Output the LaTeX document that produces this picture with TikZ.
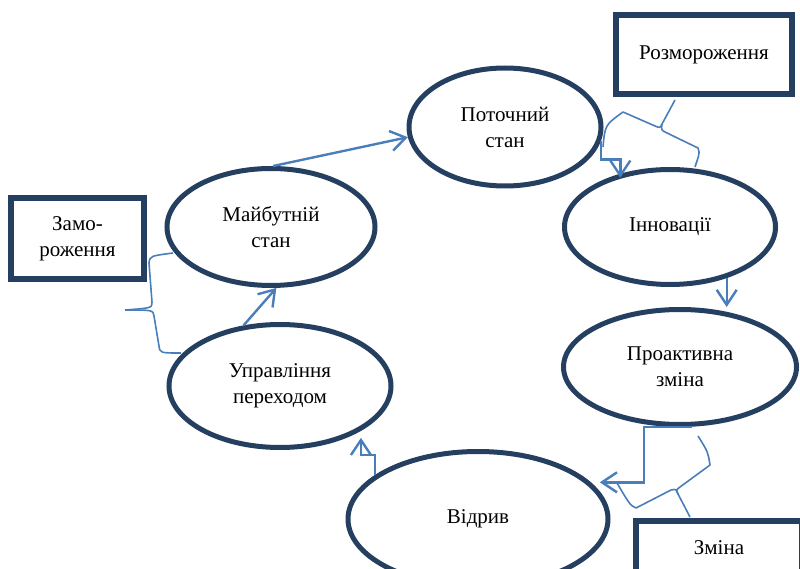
\documentclass[tikz,border=0pt]{standalone}
\usepackage{fontspec}
\setmainfont{Liberation Serif}
\usetikzlibrary{shapes.geometric,arrows.meta}
\definecolor{navy}{HTML}{243F60}
\definecolor{linkblue}{HTML}{4A7EBB}
\begin{document}
\begin{tikzpicture}[x=1pt,y=-1pt,
  font=\fontsize{21}{26}\selectfont,
  stage/.style={ellipse,draw=navy,line width=5pt,inner sep=0pt,align=center},
  phase/.style={rectangle,draw=navy,line width=6pt,inner sep=0pt,align=center},
  flow/.style={draw=linkblue,line width=2.4pt,
    -{Straight Barb[length=15pt,width=20pt,line width=2.4pt]}},
  bracket/.style={draw=linkblue,line width=1.6pt,line join=round}]
\useasboundingbox (0,0) rectangle (800,569);
\clip (0,0) rectangle (800,569);

% stages of the cycle
\node[stage,minimum width=192pt,minimum height=118pt] (pot) at (505,127) {Поточний\\стан};
\node[stage,minimum width=211pt,minimum height=115pt] (inn) at (670,227) {Інновації};
\node[stage,minimum width=233pt,minimum height=115pt] (pro) at (680,367) {Проактивна\\зміна};
\node[stage,minimum width=260pt,minimum height=135pt] (vid) at (478,519) {Відрив};
\node[stage,minimum width=222pt,minimum height=123pt] (upr) at (280,386) {Управління\\переходом};
\node[stage,minimum width=208pt,minimum height=117pt] (mai) at (271,227) {Майбутній\\стан};

% phase labels
\node[phase,minimum width=176pt,minimum height=79pt] (rozm) at (704,54.5) {Розмороження};
\node[phase,minimum width=133pt,minimum height=81pt] (zamo) at (77.5,238.5) {Замо-\\роження};
\node[phase,minimum width=166pt,minimum height=54pt] (zmina) at (719,548) {Зміна};

% flow between stages
\draw[flow] (mai.88) -- (pot.186);
\draw[flow,shorten >=-4pt] (pot.352) -- ++(0,19) -| (inn.133);
\draw[flow] (inn.318) -- (inn.318 |- pro.north);
\draw[flow,shorten >=9pt] ([xshift=12pt]pro.south) -- ++(-48,0) |- (vid.18);
\draw[flow,shorten >=7pt] (vid.157) -- ++(0,-20) -| (upr.331);
\draw[flow] (upr.121) -- (mai.275);

% brackets grouping the stages of each phase
\draw[bracket] (603,147) .. controls (605,125) .. (623,112) -- (655,126)
  .. controls (660,128) .. (662,124) -- (675,100);
\draw[bracket] (662,124) .. controls (661,130) .. (667,133) -- (698,148)
  .. controls (701,153) and (697,160) .. (695,167);

\draw[bracket] (173,253) .. controls (150,256) .. (149,263) -- (152,302)
  .. controls (152,308) .. (125,310);
\draw[bracket] (125,310) .. controls (153,310) .. (154,316) -- (159,346)
  .. controls (160,353) .. (181,353);

\draw[bracket] (698,436) .. controls (708,452) .. (710,465) -- (680,487)
  .. controls (676,490) .. (678,494) -- (690,517);
\draw[bracket] (678,494) .. controls (676,489) .. (671,490) -- (636,508)
  .. controls (630,505) .. (617,483);
\end{tikzpicture}
\end{document}
